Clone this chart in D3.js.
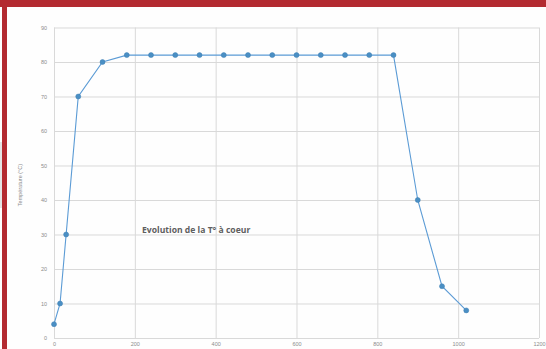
<!DOCTYPE html>
<html><head><meta charset="utf-8">
<script src="https://cdn.jsdelivr.net/npm/d3@7"></script>
<style>
html,body{margin:0;padding:0;background:#fff;overflow:hidden}
svg{display:block}
</style></head>
<body>
<svg id="c" width="546" height="349"></svg>
<script>
const timeSec = [0, 15, 30, 60, 120, 180, 240, 300, 360, 420, 480, 540, 600, 660, 720, 780, 840, 900, 960, 1020];
const tempC   = [4, 10, 30, 70, 80, 82, 82, 82, 82, 82, 82, 82, 82, 82, 82, 82, 82, 40, 15, 8];
const xTicks = [0, 200, 400, 600, 800, 1000, 1200];
const yTicks = [0, 10, 20, 30, 40, 50, 60, 70, 80, 90];
const yTitle = "Température (°C)";
const note = "Evolution de la T° à coeur";

const svg = d3.select("#c");
const W = 546, H = 349;
svg.append("rect").attr("width", W).attr("height", H).attr("fill", "#fefefe");
// frame
svg.append("rect").attr("x", 0).attr("y", 0).attr("width", W).attr("height", 7).attr("fill", "#b32a30");
svg.append("rect").attr("x", 2).attr("y", 0).attr("width", 5).attr("height", H).attr("fill", "#b32a30");
svg.append("rect").attr("x", 0).attr("y", 142).attr("width", 2).attr("height", 66).attr("fill", "#e4e4e4");

const x = d3.scaleLinear().domain([0, 1200]).range([54, 539]);
const y = d3.scaleLinear().domain([0, 90]).range([338, 27.5]);

const font = "'Liberation Sans', Arial, sans-serif";
// gridlines
const gx = svg.append("g").attr("transform", `translate(0,${y(0)})`)
  .call(d3.axisBottom(x).tickValues(xTicks).tickFormat(d3.format("d")).tickSize(-(y(0) - y(90))).tickPadding(4));
gx.select(".domain").remove();
gx.selectAll("line").attr("stroke", "#d9d9d9").attr("stroke-width", 1);
gx.selectAll("text").attr("fill", "#8c8c8c").attr("font-size", 5.5).attr("font-family", font);

const gy = svg.append("g").attr("transform", `translate(${x(0)},0)`)
  .call(d3.axisLeft(y).tickValues(yTicks).tickFormat(d3.format("d")).tickSize(-(x(1200) - x(0))).tickPadding(7));
gy.select(".domain").remove();
gy.selectAll("line").attr("stroke", "#d9d9d9").attr("stroke-width", 1);
gy.selectAll("text").attr("fill", "#8c8c8c").attr("font-size", 5.5).attr("font-family", font);

// y title
svg.append("text")
  .attr("transform", `translate(22,185) rotate(-90)`)
  .attr("text-anchor", "middle")
  .attr("font-size", 5.5).attr("font-family", font).attr("fill", "#8c8c8c")
  .text(yTitle);

// line
const data = timeSec.map((t, i) => ({t, v: tempC[i]}));
svg.append("path").datum(data)
  .attr("fill", "none").attr("stroke", "#5b9bd5").attr("stroke-width", 1.1)
  .attr("d", d3.line().x(d => x(d.t)).y(d => y(d.v)));
svg.append("g").selectAll("circle").data(data).join("circle")
  .attr("cx", d => x(d.t)).attr("cy", d => y(d.v)).attr("r", 2.5)
  .attr("fill", "#4a8fc4").attr("stroke", "#3f7fb3").attr("stroke-width", 0.5);

// note
svg.append("text").attr("x", 142).attr("y", 233)
  .attr("font-size", 8.6).attr("font-weight", "bold").attr("font-family", "'Open Sans', sans-serif")
  .attr("fill", "#5f5f5f").text(note);
</script>
</body></html>
